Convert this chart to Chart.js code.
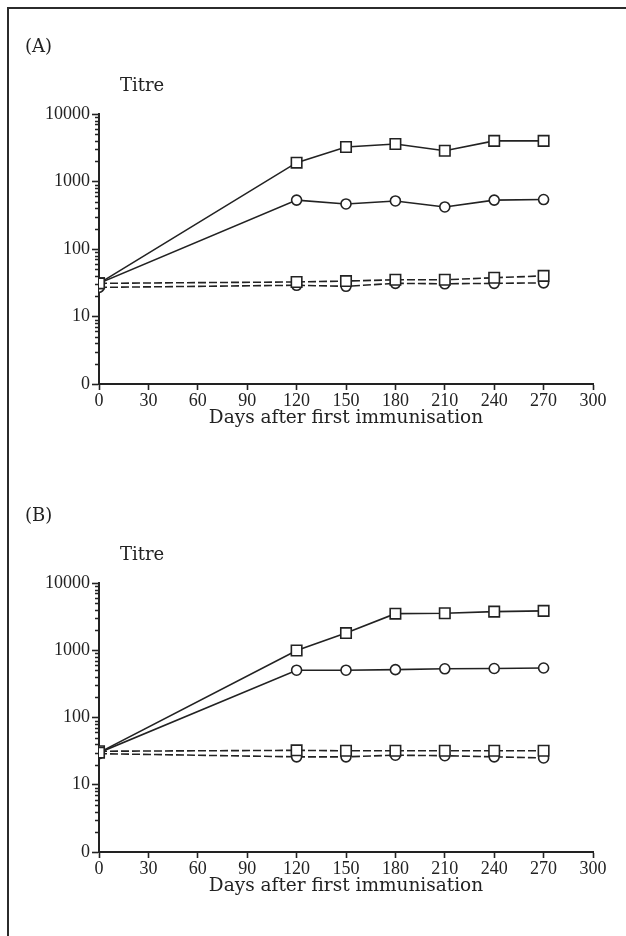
<!DOCTYPE html>
<html>
<head>
<meta charset="utf-8">
<script src="https://cdn.jsdelivr.net/npm/chart.js@4"></script>
<style>
  html, body { margin: 0; padding: 0; background: #fff; }
  body { width: 626px; height: 936px; position: relative; overflow: hidden; }
  .frame { position: absolute; left: 7px; top: 7px; right: 0; bottom: 0;
           border-top: 2px solid #2b2b2b; border-left: 2px solid #2b2b2b; }
  canvas { position: absolute; left: 0; }
  #chartA { top: 0; }
  #chartB { top: 469px; }
</style>
</head>
<body>
<div class="frame"></div>
<canvas id="chartA" width="626" height="468"></canvas>
<canvas id="chartB" width="626" height="467"></canvas>
<script>
// days after first immunisation
const days = [0, 120, 150, 180, 210, 240, 270];

// panel A titres
const aSquareSolid  = [31, 1900, 3250, 3600, 2850, 4000, 4000];
const aCircleSolid  = [31, 530, 465, 515, 420, 530, 540];
const aSquareDashed = [31, 32.5, 33.5, 35, 35, 37.5, 40];
const aCircleDashed = [27, 29, 28, 31, 30.5, 31, 31.5];

// panel B titres
const bSquareSolid  = [30, 990, 1800, 3500, 3550, 3750, 3850];
const bCircleSolid  = [30, 505, 505, 515, 530, 535, 545];
const bSquareDashed = [31.5, 32.5, 32, 32, 32, 32, 32];
const bCircleDashed = [29, 26, 26, 27.5, 27, 26, 25];

// y ticks (1 is shown as "0" on the original axis)
const yTicks = [1, 10, 100, 1000, 10000];
const xTickStep = 30;

const INK = '#222';
const numFont = { family: '"Liberation Serif", serif', size: 18 };

function series(values, style, dashed) {
  return {
    data: days.map((d, i) => ({ x: d, y: values[i] })),
    borderColor: INK,
    borderWidth: 1.6,
    borderDash: dashed ? [8, 3] : [],
    pointStyle: style,
    pointRadius: style === 'rect' ? 7.4 : 5,
    pointBorderWidth: 1.6,
    pointBorderColor: INK,
    pointBackgroundColor: '#fff',
    fill: false,
    tension: 0
  };
}

// small log ticks between the decades
const minorTicks = {
  id: 'minorTicks',
  afterDraw(chart) {
    const y = chart.scales.y;
    const ctx = chart.ctx;
    ctx.save();
    ctx.strokeStyle = INK;
    ctx.lineWidth = 1.3;
    ctx.beginPath();
    [1, 10, 100, 1000].forEach(dec => {
      for (let k = 2; k <= 9; k++) {
        const py = Math.round(y.getPixelForValue(dec * k)) + 0.5;
        ctx.moveTo(y.right - 4, py);
        ctx.lineTo(y.right, py);
      }
    });
    ctx.stroke();
    ctx.restore();
  }
};

// panel letter and "Titre" label
const panelText = {
  id: 'panelText',
  afterDraw(chart, args, opts) {
    const ctx = chart.ctx;
    const area = chart.chartArea;
    ctx.save();
    ctx.fillStyle = INK;
    ctx.font = '18px "DejaVu Serif", serif';
    ctx.textBaseline = 'middle';
    ctx.fillText(opts.letter, area.left - 74, area.top - 67);
    ctx.fillText('Titre', area.left + 21, area.top - 28);
    ctx.restore();
  }
};

function makeChart(id, letter, sets) {
  new Chart(document.getElementById(id), {
    type: 'line',
    data: {
      datasets: [
        series(sets[0], 'rect', false),
        series(sets[1], 'circle', false),
        series(sets[2], 'rect', true),
        series(sets[3], 'circle', true)
      ]
    },
    plugins: [minorTicks, panelText],
    options: {
      responsive: false,
      animation: false,
      layout: { padding: { top: 114, right: 33, left: 0, bottom: 37 } },
      scales: {
        x: {
          type: 'linear',
          min: 0,
          max: 300,
          afterFit(scale) { scale.height = 47; },
          ticks: { stepSize: xTickStep, color: INK, font: numFont, padding: 0, maxRotation: 0 },
          grid: { drawOnChartArea: false, tickLength: 6, tickColor: INK, tickWidth: 1.6 },
          border: { color: INK, width: 2 },
          title: {
            display: true,
            text: 'Days after first immunisation',
            color: INK,
            font: { family: '"DejaVu Serif", serif', size: 18.5 },
            padding: { top: 0, bottom: 2 }
          }
        },
        y: {
          type: 'logarithmic',
          min: 1,
          max: 10000,
          afterFit(scale) { scale.width = 99; },
          afterBuildTicks(scale) { scale.ticks = yTicks.map(v => ({ value: v })); },
          ticks: {
            color: INK,
            font: numFont,
            padding: 2,
            callback: v => (v === 1 ? '0' : String(v))
          },
          grid: { drawOnChartArea: false, tickLength: 7, tickColor: INK, tickWidth: 1.6 },
          border: { color: INK, width: 2 }
        }
      },
      plugins: {
        legend: { display: false },
        tooltip: { enabled: false },
        panelText: { letter: letter }
      }
    }
  });
}

makeChart('chartA', '(A)', [aSquareSolid, aCircleSolid, aSquareDashed, aCircleDashed]);
makeChart('chartB', '(B)', [bSquareSolid, bCircleSolid, bSquareDashed, bCircleDashed]);
</script>
</body>
</html>
